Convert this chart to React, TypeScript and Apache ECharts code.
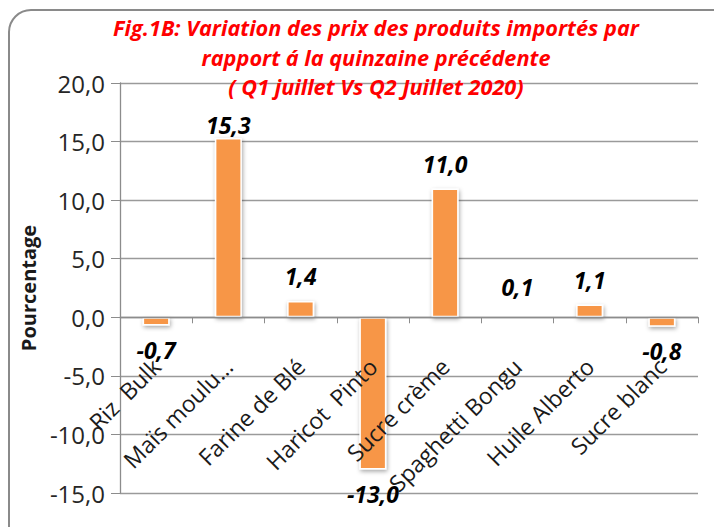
import React, { useEffect, useRef } from "react";
import * as echarts from "echarts";

const categories = [
  "Riz  Bulk",
  "Maïs moulu…",
  "Farine de Blé",
  "Haricot  Pinto",
  "Sucre crème",
  "Spaghetti Bongu",
  "Huile Alberto",
  "Sucre blanc",
];
const values = [-0.7, 15.3, 1.4, -13.0, 11.0, 0.1, 1.1, -0.8];
const titleLines = [
  "Fig.1B: Variation des prix des produits importés par",
  "rapport á la quinzaine précédente",
  "( Q1 juillet Vs Q2 Juillet 2020)",
];
const yAxisName = "Pourcentage";
const yMin = -15;
const yMax = 20;
const yStep = 5;

const FONT = "'Open Sans', 'Noto Sans', sans-serif";
const fmt = (v: number) => v.toFixed(1).replace(".", ",");

const W = 714;
const H = 527;
const GRID_TOP = 83;
const GRID_BOTTOM = 34;

export default function App() {
  const ref = useRef<HTMLDivElement>(null);
  useEffect(() => {
    if (!ref.current) return;
    const chart = echarts.init(ref.current, null, { renderer: "svg" });
    const labelDistanceFor = (i: number, v: number) => {
      if (i === 1) return 2;
      if (Math.abs(v) < 0.5) return 17;
      return 13;
    };
    const plotH = H - GRID_TOP - GRID_BOTTOM;
    const zeroOffset = (plotH * (0 - yMin)) / (yMax - yMin);
    chart.setOption({
      animation: false,
      backgroundColor: "#ffffff",
      title: {
        text: titleLines.join("\n"),
        left: 371,
        top: 8,
        textAlign: "center",
        textStyle: {
          fontFamily: FONT,
          fontSize: 21.7,
          fontStyle: "italic",
          fontWeight: "bold",
          color: "#ff0000",
          lineHeight: 29.5,
        },
      },
      graphic: [
        {
          type: "rect",
          z: -10,
          silent: true,
          shape: { x: 9, y: 10, width: 740, height: 560, r: 22 },
          style: { fill: "none", stroke: "#8a8a8a", lineWidth: 2 },
        },
      ],
      grid: {
        left: 120,
        right: 16,
        top: GRID_TOP,
        bottom: GRID_BOTTOM,
        containLabel: false,
        outerBoundsMode: "none",
      },
      xAxis: {
        type: "category",
        data: categories,
        offset: -zeroOffset,
        z: 3,
        axisLine: { onZero: false, lineStyle: { color: "#8c8c8c", width: 1.3 } },
        axisTick: { show: true, length: 6, lineStyle: { color: "#8c8c8c" } },
        axisLabel: {
          interval: 0,
          rotate: 45,
          fontFamily: FONT,
          fontSize: 23,
          color: "#1a1a1a",
          margin: 45,
        },
      },
      yAxis: {
        type: "value",
        min: yMin,
        max: yMax,
        interval: yStep,
        name: yAxisName,
        nameLocation: "middle",
        nameGap: 77,
        nameRotate: 90,
        nameTextStyle: {
          fontFamily: FONT,
          fontSize: 20,
          fontWeight: "bold",
          color: "#1a1a1a",
        },
        axisLine: { show: true, lineStyle: { color: "#8c8c8c", width: 1.3 } },
        axisTick: { show: true, length: 9, lineStyle: { color: "#8c8c8c" } },
        axisLabel: {
          formatter: (v: number) => fmt(v),
          fontFamily: FONT,
          fontSize: 24,
          color: "#262626",
          margin: 15,
        },
        splitLine: { lineStyle: { color: "#9a9a9a", width: 1.3 } },
      },
      series: [
        {
          type: "bar",
          barWidth: 27,
          z: 2,
          data: values.map((v, i) => ({
            value: v,
            label: {
              show: true,
              position: v >= 0 ? "top" : "bottom",
              distance: labelDistanceFor(i, v),
            },
          })),
          itemStyle: {
            color: "#f79646",
            borderColor: "#ffffff",
            borderWidth: 1.5,
            shadowColor: "rgba(0,0,0,0.35)",
            shadowBlur: 4,
            shadowOffsetX: 1,
            shadowOffsetY: 2,
          },
          label: {
            show: true,
            formatter: (p: any) => fmt(p.value),
            fontFamily: FONT,
            fontSize: 23,
            fontStyle: "italic",
            fontWeight: "bold",
            color: "#000000",
          },
        },
      ],
    });
    return () => chart.dispose();
  }, []);
  return (
    <div
      ref={ref}
      style={{ position: "fixed", left: 0, top: 0, width: W, height: H }}
    />
  );
}
